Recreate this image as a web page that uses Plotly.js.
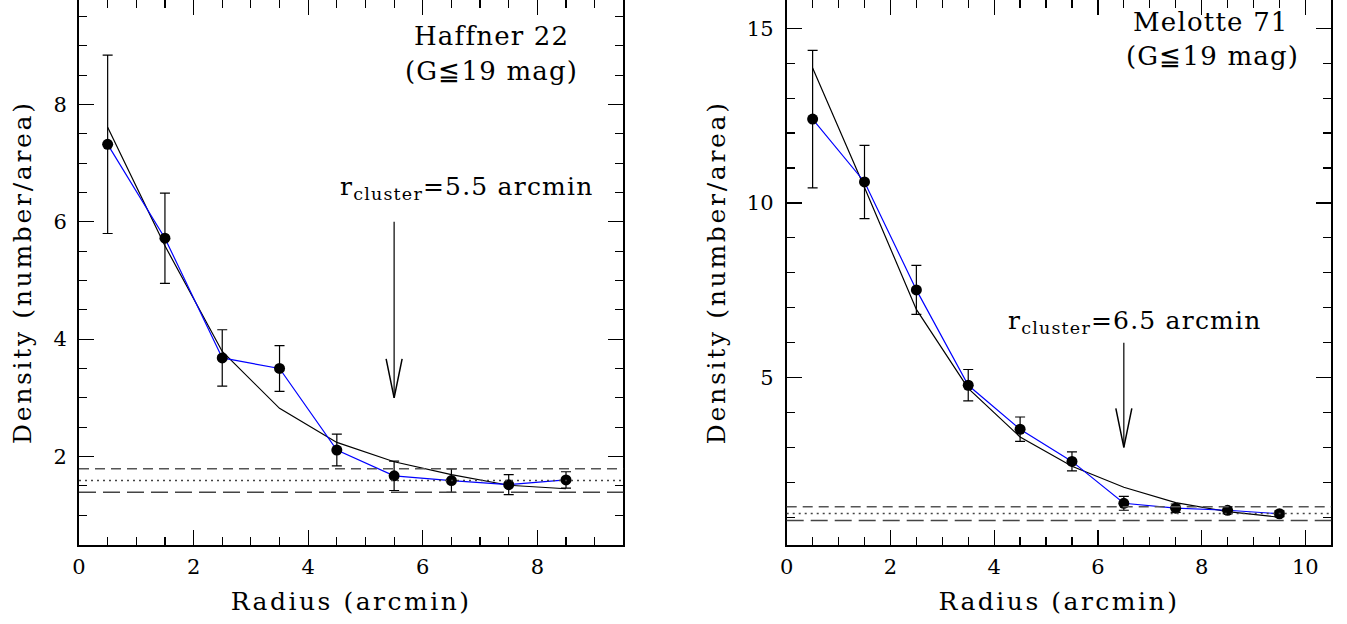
<!DOCTYPE html>
<html>
<head>
<meta charset="utf-8">
<script src="https://cdn.plot.ly/plotly-3.0.1.min.js"></script>
<style>
html,body{margin:0;padding:0;background:#fff;}
#chart{width:1347px;height:624px;}
text.xtitle, text.x2title { letter-spacing: 2.5px; }
text.ytitle, text.y2title { letter-spacing: 2.7px; }
text.annotation-text { letter-spacing: 1.2px; }
</style>
</head>
<body>
<div id="chart"></div>
<script>
// ---- Data: Haffner 22 ----
const radiusH = [0.5, 1.5, 2.5, 3.5, 4.5, 5.5, 6.5, 7.5, 8.5];
const densityH = [7.32, 5.72, 3.68, 3.50, 2.11, 1.67, 1.59, 1.52, 1.60];
const errH = [1.52, 0.77, 0.48, 0.39, 0.27, 0.25, 0.20, 0.17, 0.14];
const fitH = [7.61, 5.59, 3.79, 2.82, 2.24, 1.91, 1.69, 1.51, 1.45];
const bgH = [1.79, 1.59, 1.39];   // upper, mean, lower background level
const rclusterH = 5.5;

// ---- Data: Melotte 71 ----
const radiusM = [0.5, 1.5, 2.5, 3.5, 4.5, 5.5, 6.5, 7.5, 8.5, 9.5];
const densityM = [12.40, 10.60, 7.51, 4.78, 3.52, 2.60, 1.40, 1.26, 1.20, 1.10];
const errM = [1.97, 1.05, 0.70, 0.45, 0.35, 0.27, 0.20, 0.12, 0.10, 0.08];
const fitM = [13.86, 10.44, 6.95, 4.69, 3.30, 2.46, 1.86, 1.42, 1.16, 1.00];
const bgM = [1.30, 1.11, 0.91];
const rclusterM = 6.5;

const FONT = 'DejaVu Serif, Liberation Serif, serif';
const W = 1347, H = 624;
const dom1 = [79/W, 623.3/W], dom2 = [786.7/W, 1331.3/W];
const ydom = [(H-544.5)/H, 1];
const xr1 = [0, 9.5], yr1 = [0.5, 9.78];
const xr2 = [0, 10.5], yr2 = [0.22, 15.81];

function panel(x, y, e, fit, xa, ya) {
  return [
    {x: x, y: fit, xaxis: xa, yaxis: ya, mode: 'lines', type: 'scatter',
     line: {color: '#000', width: 1.2}, hoverinfo: 'skip'},
    {x: x, y: y, xaxis: xa, yaxis: ya, mode: 'lines', type: 'scatter',
     line: {color: '#0000ff', width: 1.2}, hoverinfo: 'skip'},
    {x: x, y: y, xaxis: xa, yaxis: ya, mode: 'markers', type: 'scatter',
     marker: {color: '#000', size: 11},
     error_y: {type: 'data', array: e, visible: true, color: '#000', thickness: 1.2, width: 5}}
  ];
}

const traces = panel(radiusH, densityH, errH, fitH, 'x', 'y')
  .concat(panel(radiusM, densityM, errM, fitM, 'x2', 'y2'));

function axis(dom, range, dtick, minor, anchor) {
  return {
    domain: dom, range: range, anchor: anchor, tick0: 0, dtick: dtick,
    ticks: 'inside', ticklen: 15, tickwidth: 1.2, tickcolor: '#000',
    minor: {dtick: minor, ticks: 'inside', ticklen: 8, tickwidth: 1.2, tickcolor: '#000', showgrid: false},
    showline: true, linewidth: 2, linecolor: '#000', mirror: 'allticks',
    showgrid: false, zeroline: false,
    tickfont: {family: FONT, size: 21, color: '#000'}
  };
}

const titleFont = {family: FONT, size: 25, color: '#000'};
const xa1 = axis(dom1, xr1, 2, 0.5, 'y');
xa1.title = {text: 'Radius (arcmin)', font: titleFont, standoff: 15};
xa1.ticklabelstandoff = 2;
const ya1 = axis(ydom, yr1, 2, 0.5, 'x');
ya1.title = {text: 'Density (number/area)', font: titleFont, standoff: 15};
ya1.ticklabelstandoff = 6;
const xa2 = axis(dom2, xr2, 2, 0.5, 'y2');
xa2.title = {text: 'Radius (arcmin)', font: titleFont, standoff: 15};
xa2.ticklabelstandoff = 2;
const ya2 = axis(ydom, yr2, 5, 1, 'x2');
ya2.title = {text: 'Density (number/area)', font: titleFont, standoff: 14};
ya2.ticklabelstandoff = 7;

function bgShapes(bg, xref, yref) {
  const dashes = ['10px,6px', '2px,4px', '17px,7px'];
  const cols = ['#555', '#444', '#444'];
  return bg.map((v, i) => ({type: 'line', xref: xref + ' domain', yref: yref,
    x0: 0, x1: 1, y0: v, y1: v, line: {color: cols[i], width: 1.5, dash: dashes[i]}}));
}

function arrowShapes(xc, ytop, ytip, xref, yref, xr, yr, dom) {
  const pxX = (dom[1]-dom[0])*W/(xr[1]-xr[0]);
  const pxY = (ydom[1]-ydom[0])*H/(yr[1]-yr[0]);
  const hw = 8/pxX, hh = 39/pxY;
  return [
    {type: 'line', xref: xref, yref: yref, x0: xc, x1: xc, y0: ytop, y1: ytip, line: {color: '#000', width: 1.2}},
    {type: 'path', xref: xref, yref: yref,
     path: `M ${xc-hw},${ytip+hh} L ${xc},${ytip} L ${xc+hw},${ytip+hh}`, line: {color: '#000', width: 1.5}}
  ];
}

const shapes = bgShapes(bgH, 'x', 'y').concat(bgShapes(bgM, 'x2', 'y2'))
  .concat(arrowShapes(rclusterH, 6.0, 3.0, 'x', 'y', xr1, yr1, dom1))
  .concat(arrowShapes(rclusterM, 6.0, 3.0, 'x2', 'y2', xr2, yr2, dom2));

const tf = {family: FONT, size: 26, color: '#000'};
const rf = {family: FONT, size: 25, color: '#000'};
const annotations = [
  {xref: 'x', yref: 'y', x: 7.2, y: 9.16, text: 'Haffner 22', showarrow: false, font: tf},
  {xref: 'x', yref: 'y', x: 7.2, y: 8.57, text: '(G≦19 mag)', showarrow: false, font: tf},
  {xref: 'x', yref: 'y', x: 6.77, y: 6.58, text: 'r<sub>cluster</sub>=' + rclusterH + ' arcmin', showarrow: false, font: rf},
  {xref: 'x2', yref: 'y2', x: 8.19, y: 15.17, text: 'Melotte 71', showarrow: false, font: tf},
  {xref: 'x2', yref: 'y2', x: 8.21, y: 14.2, text: '(G≦19 mag)', showarrow: false, font: tf},
  {xref: 'x2', yref: 'y2', x: 6.7, y: 6.6, text: 'r<sub>cluster</sub>=' + rclusterM + ' arcmin', showarrow: false, font: rf}
];

const layout = {
  width: W, height: H, margin: {l: 0, r: 0, t: 0, b: 0},
  paper_bgcolor: '#fff', plot_bgcolor: '#fff', showlegend: false,
  xaxis: xa1, yaxis: ya1, xaxis2: xa2, yaxis2: ya2,
  shapes: shapes, annotations: annotations,
  font: {family: FONT, color: '#000'}
};

Plotly.newPlot('chart', traces, layout, {staticPlot: true, displayModeBar: false});
</script>
</body>
</html>
